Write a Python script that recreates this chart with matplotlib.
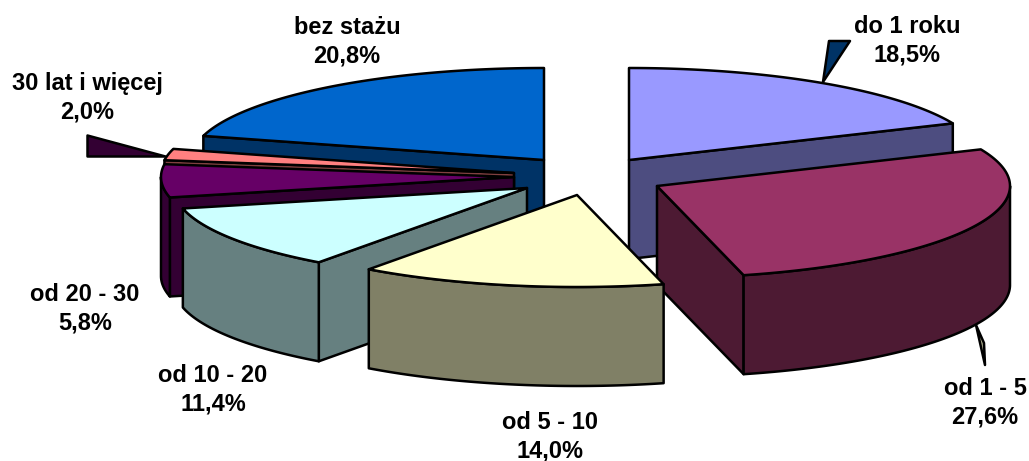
import numpy as np
import matplotlib
matplotlib.use("Agg")
import matplotlib.pyplot as plt
from matplotlib.patches import Polygon

categories = ["do 1 roku", "od 1 - 5", "od 5 - 10", "od 10 - 20", "od 20 - 30", "30 lat i więcej", "bez stażu"]
shares = [18.5, 27.6, 14.0, 11.4, 5.8, 2.0, 20.8]
top_colors = ["#9999ff", "#993366", "#ffffcc", "#ccffff", "#660066", "#ff8080", "#0066cc"]
side_colors = ["#4d4d80", "#4d1a33", "#808066", "#668080", "#330033", "#804040", "#003366"]
apex_x = [629, 657, 577, 527, 514, 514, 544]
apex_y = [160, 186, 195, 188, 177, 173, 160]
label_x = [907, 985, 550, 213, 85, 87, 347]
label_y = [41, 403, 437, 390, 309, 98, 42]
draw_order = [6, 5, 4, 3, 0, 1, 2]

RX, RY, DEPTH = 353, 92, 99
LW = 1.8

plt.rcParams["font.family"] = ["Liberation Sans", "DejaVu Sans"]
fig = plt.figure(figsize=(10.29, 4.61), dpi=100)
ax = fig.add_axes([0, 0, 1, 1])
ax.set_xlim(0, 1029)
ax.set_ylim(461, 0)
ax.axis("off")


def rim(cx, cy, a0, a1, dy=0):
    t = np.radians(np.linspace(a0, a1, max(2, int(abs(a1 - a0) * 2))))
    return np.column_stack([cx + RX * np.sin(t), cy - RY * np.cos(t) + dy])


def poly(points, color, z):
    ax.add_patch(Polygon(points, closed=True, facecolor=color, edgecolor="black",
                         linewidth=LW, joinstyle="round", zorder=z))


def face_visible(a, mid):
    ex, ey = RX * np.sin(np.radians(a)), -RY * np.cos(np.radians(a))
    mx, my = RX * np.sin(np.radians(mid)), -RY * np.cos(np.radians(mid))
    return (ex * my - ey * mx) * ex < 0


# leader shapes
poly([(829, 41), (850, 41), (823, 82)], "#003366", 1)
poly([(87, 135), (87, 156), (165, 156)], "#330033", 1)
poly([(976, 325), (984, 343), (985, 365)], "#b0b090", 1)

edges = np.concatenate([[0], np.cumsum(shares)]) / sum(shares) * 360
z = 2
for i in draw_order:
    cx, cy = apex_x[i], apex_y[i]
    a0, a1 = edges[i], edges[i + 1]
    mid = (a0 + a1) / 2
    for a in (a0, a1):
        if face_visible(a, mid):
            p = rim(cx, cy, a, a)[0]
            poly([(cx, cy), p, (p[0], p[1] + DEPTH), (cx, cy + DEPTH)], side_colors[i], z)
            z += 1
    lo, hi = max(a0, 90), min(a1, 270)
    if lo < hi:
        upper = rim(cx, cy, lo, hi)
        lower = rim(cx, cy, hi, lo, DEPTH)
        poly(np.vstack([upper, lower]), side_colors[i], z)
        z += 1
    poly(np.vstack([[(cx, cy)], rim(cx, cy, a0, a1)]), top_colors[i], z)
    z += 1

for name, val, x, y in zip(categories, shares, label_x, label_y):
    text = f"{name}\n{val:.1f}%".replace(".", ",")
    ax.text(x, y, text, ha="center", va="center", fontsize=17, fontweight="bold",
            color="black", linespacing=1.3, zorder=100)

fig.savefig("out.png", dpi=100)
